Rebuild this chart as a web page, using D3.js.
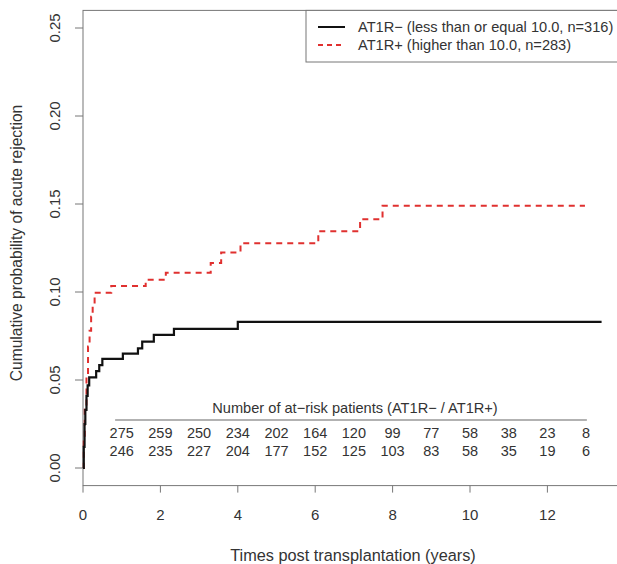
<!DOCTYPE html>
<html><head><meta charset="utf-8">
<script src="https://cdn.jsdelivr.net/npm/d3@7"></script>
<style>body{margin:0;background:#fff}text{font-family:"Liberation Sans",Arial,sans-serif;fill:#333}</style>
</head><body><svg id="c" width="617" height="564"></svg>
<script>
// Data
const negTimes  = [0, 0.02, 0.04, 0.06, 0.09, 0.12, 0.16, 0.34, 0.42, 0.50, 1.03, 1.42, 1.53, 1.83, 2.35, 4.00, 13.40];
const negValues = [0, 0.012, 0.025, 0.033, 0.041, 0.047, 0.0515, 0.055, 0.0585, 0.062, 0.065, 0.068, 0.0718, 0.0756, 0.079, 0.083, 0.083];
const posTimes  = [0, 0.02, 0.045, 0.09, 0.13, 0.17, 0.21, 0.25, 0.30, 0.73, 1.62, 2.14, 3.30, 3.57, 4.07, 6.08, 7.16, 7.74, 12.97];
const posValues = [0, 0.015, 0.035, 0.052, 0.069, 0.078, 0.086, 0.093, 0.0996, 0.1034, 0.107, 0.111, 0.1165, 0.1225, 0.1277, 0.1345, 0.1413, 0.149, 0.149];
const xTicks = [0, 2, 4, 6, 8, 10, 12];
const yTicks = [0, 0.05, 0.10, 0.15, 0.20, 0.25];
const riskYears = [1,2,3,4,5,6,7,8,9,10,11,12,13];
const riskNeg = [275,259,250,234,202,164,120,99,77,58,38,23,8];
const riskPos = [246,235,227,204,177,152,125,103,83,58,35,19,6];
const legendLabels = ["AT1R\u2212 (less than or equal 10.0, n=316)", "AT1R+ (higher than 10.0, n=283)"];

const svg = d3.select("#c");
const x = d3.scaleLinear().domain([0, 13.9]).range([83, 83 + 38.7*13.9]);
const y = d3.scaleLinear().domain([-0.01, 0.26]).range([485.6, 10.4]);

// box
svg.append("rect").attr("x", x(0)).attr("y", y(0.26)).attr("width", x(13.9)-x(0)).attr("height", y(-0.01)-y(0.26))
  .attr("fill","none").attr("stroke","#777").attr("stroke-width",1);

// x axis
const xa = svg.append("g");
xTicks.forEach(t=>{
  xa.append("line").attr("x1",x(t)).attr("x2",x(t)).attr("y1",y(-0.01)).attr("y2",y(-0.01)+7).attr("stroke","#777");
  xa.append("text").attr("x",x(t)).attr("y",520).attr("text-anchor","middle").attr("font-size",15).text(d3.format("d")(t));
});
// y axis
yTicks.forEach(v=>{
  svg.append("line").attr("x1",x(0)-8).attr("x2",x(0)).attr("y1",y(v)).attr("y2",y(v)).attr("stroke","#777");
  svg.append("text").attr("transform",`translate(60,${y(v)}) rotate(-90)`).attr("text-anchor","middle").attr("font-size",15).text(d3.format(".2f")(v));
});
svg.append("text").attr("x",353).attr("y",561).attr("text-anchor","middle").attr("font-size",16.3).text("Times post transplantation (years)");
svg.append("text").attr("transform",`translate(22,243) rotate(-90)`).attr("text-anchor","middle").attr("font-size",15.6).text("Cumulative probability of acute rejection");

// curves
const line = d3.line().x(d=>x(d[0])).y(d=>y(d[1])).curve(d3.curveStepAfter);
svg.append("path").datum(posTimes.map((t,i)=>[t,posValues[i]])).attr("d",line)
  .attr("fill","none").attr("stroke","#e0302f").attr("stroke-width",2).attr("stroke-dasharray","6,5");
svg.append("path").datum(negTimes.map((t,i)=>[t,negValues[i]])).attr("d",line)
  .attr("fill","none").attr("stroke","#111").attr("stroke-width",2.2);

// legend
svg.append("rect").attr("x",306).attr("y",y(0.26)).attr("width",330).attr("height",62-y(0.26))
  .attr("fill","#fff").attr("stroke","#777");
[0,1].forEach(i=>{
  const ly = 27 + i*18;
  svg.append("line").attr("x1",318).attr("x2",345).attr("y1",ly).attr("y2",ly)
    .attr("stroke", i? "#e0302f":"#111").attr("stroke-width",2).attr("stroke-dasharray", i? "5,4":null);
  svg.append("text").attr("x",358).attr("y",ly+5).attr("font-size",14.6).text(legendLabels[i]);
});

// at-risk table
svg.append("text").attr("x",355).attr("y",413).attr("text-anchor","middle").attr("font-size",14.6).text("Number of at\u2212risk patients (AT1R\u2212 / AT1R+)");
svg.append("line").attr("x1",x(0.83)).attr("x2",x(13.02)).attr("y1",420).attr("y2",420).attr("stroke","#999").attr("stroke-width",1.5);
riskYears.forEach((t,i)=>{
  svg.append("text").attr("x",x(t)).attr("y",438).attr("text-anchor","middle").attr("font-size",14.5).text(riskNeg[i]);
  svg.append("text").attr("x",x(t)).attr("y",456).attr("text-anchor","middle").attr("font-size",14.5).text(riskPos[i]);
});
</script></body></html>
